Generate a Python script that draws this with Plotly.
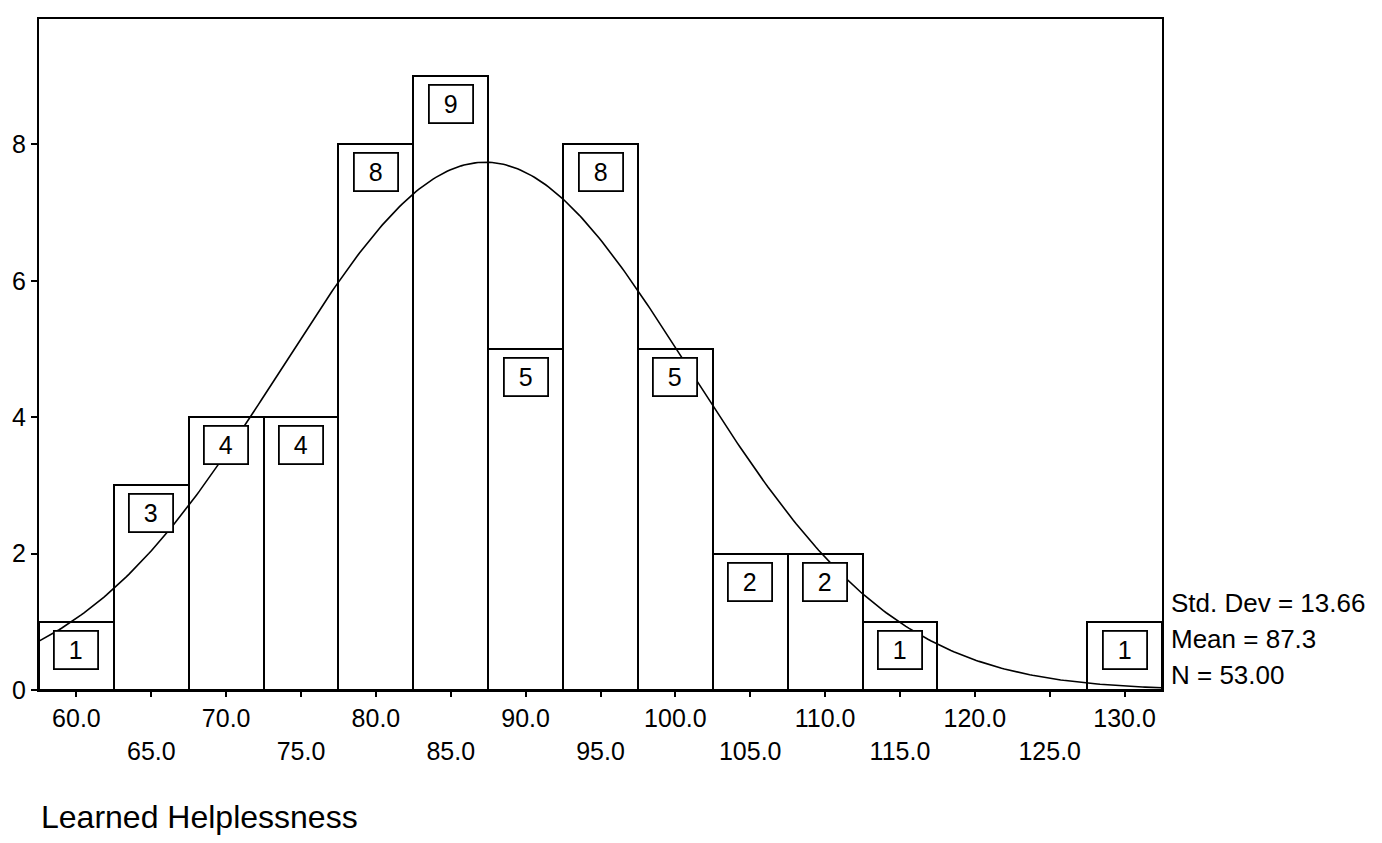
import numpy as np
import plotly.graph_objects as go

bin_centers = [60, 65, 70, 75, 80, 85, 90, 95, 100, 105, 110, 115, 120, 125, 130]
counts = [1, 3, 4, 4, 8, 9, 5, 8, 5, 2, 2, 1, 0, 0, 1]
bin_width = 5
mean_val = 87.3
std_val = 13.66
n_val = 53
x_tick_vals = [60, 65, 70, 75, 80, 85, 90, 95, 100, 105, 110, 115, 120, 125, 130]
y_tick_vals = [0, 2, 4, 6, 8]
x_title = "Learned Helplessness"
stats_lines = ["Std. Dev = 13.66", "Mean = 87.3", "N = 53.00"]

FONT = "Liberation Sans, Arial, sans-serif"

fig = go.Figure()
fig.add_trace(go.Bar(
    x=bin_centers, y=counts, width=bin_width,
    marker=dict(color="white", line=dict(color="black", width=2)),
    hoverinfo="skip", showlegend=False,
))

xs = np.linspace(57.5, 132.5, 400)
ys = n_val * bin_width / (std_val * np.sqrt(2 * np.pi)) * np.exp(-0.5 * ((xs - mean_val) / std_val) ** 2)
fig.add_trace(go.Scatter(x=xs, y=ys, mode="lines", line=dict(color="black", width=1.6),
                         hoverinfo="skip", showlegend=False))

for xc, c in zip(bin_centers, counts):
    if c > 0:
        fig.add_annotation(x=xc, y=c, xref="x", yref="y", text=str(c), showarrow=False,
                           yanchor="top", yshift=-8, font=dict(family=FONT, size=25, color="black"),
                           bordercolor="black", borderwidth=1.8, borderpad=4, bgcolor="white",
                           width=34)

ticktext = []
for i, v in enumerate(x_tick_vals):
    label = f"{v:.1f}"
    ticktext.append(label if i % 2 == 0 else "<br>" + label)

for i, s in enumerate(stats_lines):
    fig.add_annotation(x=1.006, y=0.129 - i * 0.053, xref="paper", yref="paper", text=s,
                       showarrow=False, xanchor="left", yanchor="middle",
                       font=dict(family=FONT, size=26, color="black"))

fig.add_annotation(x=0.0, y=-0.19, xref="paper", yref="paper", text=x_title,
                   showarrow=False, xanchor="left", yanchor="middle",
                   font=dict(family=FONT, size=32, color="black"))

fig.update_layout(
    width=1382, height=843,
    margin=dict(l=31, r=228, t=11, b=161, autoexpand=False),
    paper_bgcolor="white", plot_bgcolor="white",
    bargap=0,
    font=dict(family=FONT, size=25, color="black"),
    xaxis=dict(range=[57.5, 132.5], tickvals=x_tick_vals, ticktext=ticktext,
               ticks="outside", ticklen=5, tickwidth=2, tickcolor="black",
               showline=True, linecolor="black", linewidth=2, mirror=True, automargin=False,
               showgrid=False, zeroline=False, tickfont=dict(family=FONT, size=25)),
    yaxis=dict(range=[0, 9.84], tickvals=y_tick_vals, ticks="outside", ticklen=6,
               tickwidth=2, tickcolor="black", automargin=False,
               showline=True, linecolor="black", linewidth=2, mirror=True,
               showgrid=False, zeroline=False, tickfont=dict(family=FONT, size=25)),
)

fig.write_html("out.html")
